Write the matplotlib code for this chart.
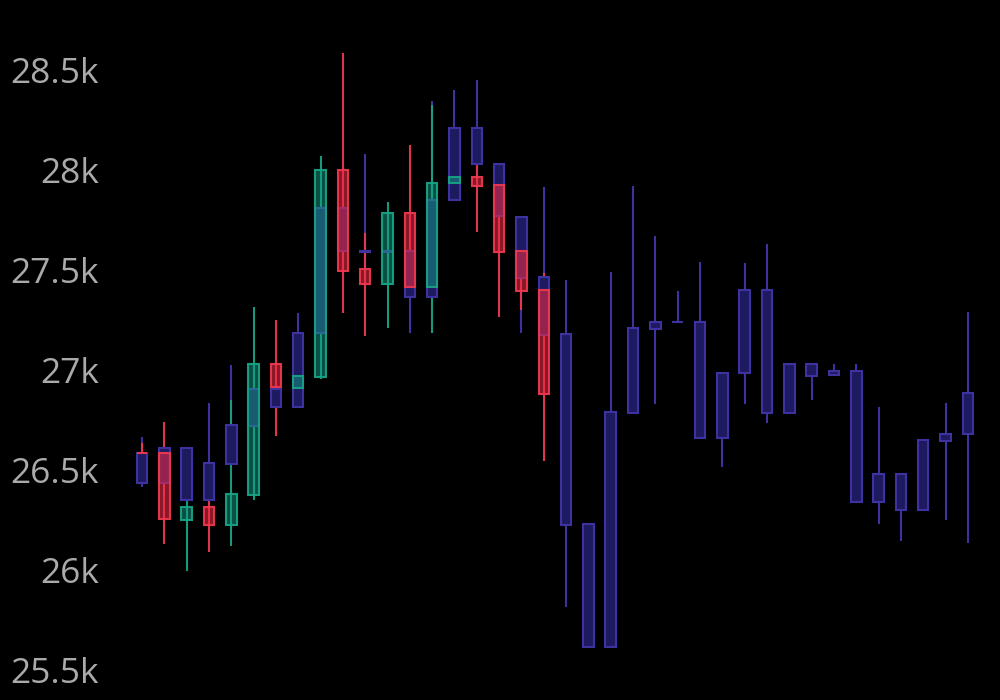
import numpy as np
import matplotlib.pyplot as plt
from matplotlib.ticker import FuncFormatter

# serie de fondo (azul), 38 velas
azul_open = [26583, 26437, 26608, 26350, 26530, 26720, 26903, 26813, 27187, 27808,
             27597, 27592, 27597, 27363, 27850, 28208, 28030, 27767, 27463, 27178,
             26228, 25613, 26783, 27205, 27238, 27238, 26658, 26987, 27400, 26783,
             27028, 26975, 26997, 26342, 26480, 26300, 26647, 26678]
azul_close = [26437, 26608, 26350, 26533, 26725, 26903, 26813, 27187, 27808, 27597,
              27592, 27597, 27363, 27850, 28208, 28030, 27770, 27458, 27175, 26225,
              25613, 26788, 27208, 27238, 27240, 26658, 26987, 27400, 26783, 27028,
              26972, 26997, 26342, 26480, 26300, 26650, 26680, 26883]
azul_high = [26667, 26620, 26608, 26837, 27025, 26903, 26913, 27287, 27808, 27808,
             28080, 27597, 27597, 28347, 28400, 28450, 28030, 27767, 27913, 27450,
             26228, 27488, 27922, 27670, 27395, 27542, 26987, 27533, 27628, 27028,
             27028, 27028, 27028, 26817, 26480, 26650, 26837, 27288]
azul_low = [26417, 26350, 26350, 26350, 26530, 26720, 26813, 26813, 27187, 27597,
            27450, 27592, 27187, 27363, 27850, 28030, 27770, 27187, 27175, 25817,
            25613, 25613, 26783, 26828, 27236, 26658, 26513, 26828, 26733, 26783,
            26850, 26975, 26342, 26228, 26145, 26300, 26250, 26133]

# serie superpuesta (verde / rojo), 19 velas
sup_open = [26587, 26583, 26250, 26313, 26225, 26375, 27030, 26908, 26963, 28000,
            27503, 27430, 27787, 27413, 27933, 27963, 27923, 27597, 27400]
sup_close = [26583, 26253, 26313, 26225, 26380, 27030, 26913, 26970, 28000, 27497,
             27430, 27787, 27413, 27937, 27967, 27920, 27592, 27397, 26880]
sup_high = [26637, 26742, 26450, 26400, 26850, 27313, 27250, 27100, 28070, 28587,
            27683, 27842, 28125, 28325, 28033, 28103, 27992, 27742, 27483]
sup_low = [26513, 26128, 25995, 26092, 26120, 26350, 26670, 26892, 26955, 27287,
           27170, 27208, 27380, 27183, 27850, 27692, 27267, 27300, 26547]

ticks_y = [25500, 26000, 26500, 27000, 27500, 28000, 28500]


def dibujar_velas(ax, o, c, h, l, col_sube, col_baja, relleno_sube, relleno_baja, ancho=0.47):
    o = np.array(o); c = np.array(c); h = np.array(h); l = np.array(l)
    x = np.arange(len(o))
    sube = c >= o
    # un color por vela, según suba o baje
    lineas = [col_sube if s else col_baja for s in sube]
    rellenos = [relleno_sube if s else relleno_baja for s in sube]
    ax.vlines(x, l, h, colors=lineas, linewidth=1.5, zorder=2)
    ax.bar(x, np.abs(c - o), bottom=np.minimum(o, c), width=ancho,
           color=rellenos, edgecolor=lineas, linewidth=1.5, zorder=3)


fig = plt.figure(figsize=(10, 7), dpi=100, facecolor='black')
ax = fig.add_axes([0.11, 0.0, 0.89, 1.0])
ax.set_facecolor('black')

# velas azules (ambas direcciones del mismo color)
dibujar_velas(ax, azul_open, azul_close, azul_high, azul_low,
              '#3d32a0', '#3d32a0', '#1e1a60', '#1e1a60')

# velas verdes/rojas por encima, semitransparentes
dibujar_velas(ax, sup_open, sup_close, sup_high, sup_low,
              (0.09, 0.64, 0.52, 0.95), (0.93, 0.22, 0.31, 0.95),
              (0.08, 0.62, 0.52, 0.5), (0.92, 0.17, 0.27, 0.58))

ax.set_ylim(25350, 28850)
ax.set_xlim(-1.434, 38.44)
ax.set_yticks(ticks_y)
ax.yaxis.set_major_formatter(FuncFormatter(lambda v, p: f"{v/1000:g}k"))
ax.set_xticks([])
ax.tick_params(axis='y', length=0, pad=8, labelcolor='#aaaaaa', labelsize=25.5)
for lbl in ax.get_yticklabels():
    lbl.set_fontfamily(['Open Sans', 'DejaVu Sans'])
for s in ax.spines.values():
    s.set_visible(False)

fig.savefig('out.png', dpi=100, facecolor='black')
